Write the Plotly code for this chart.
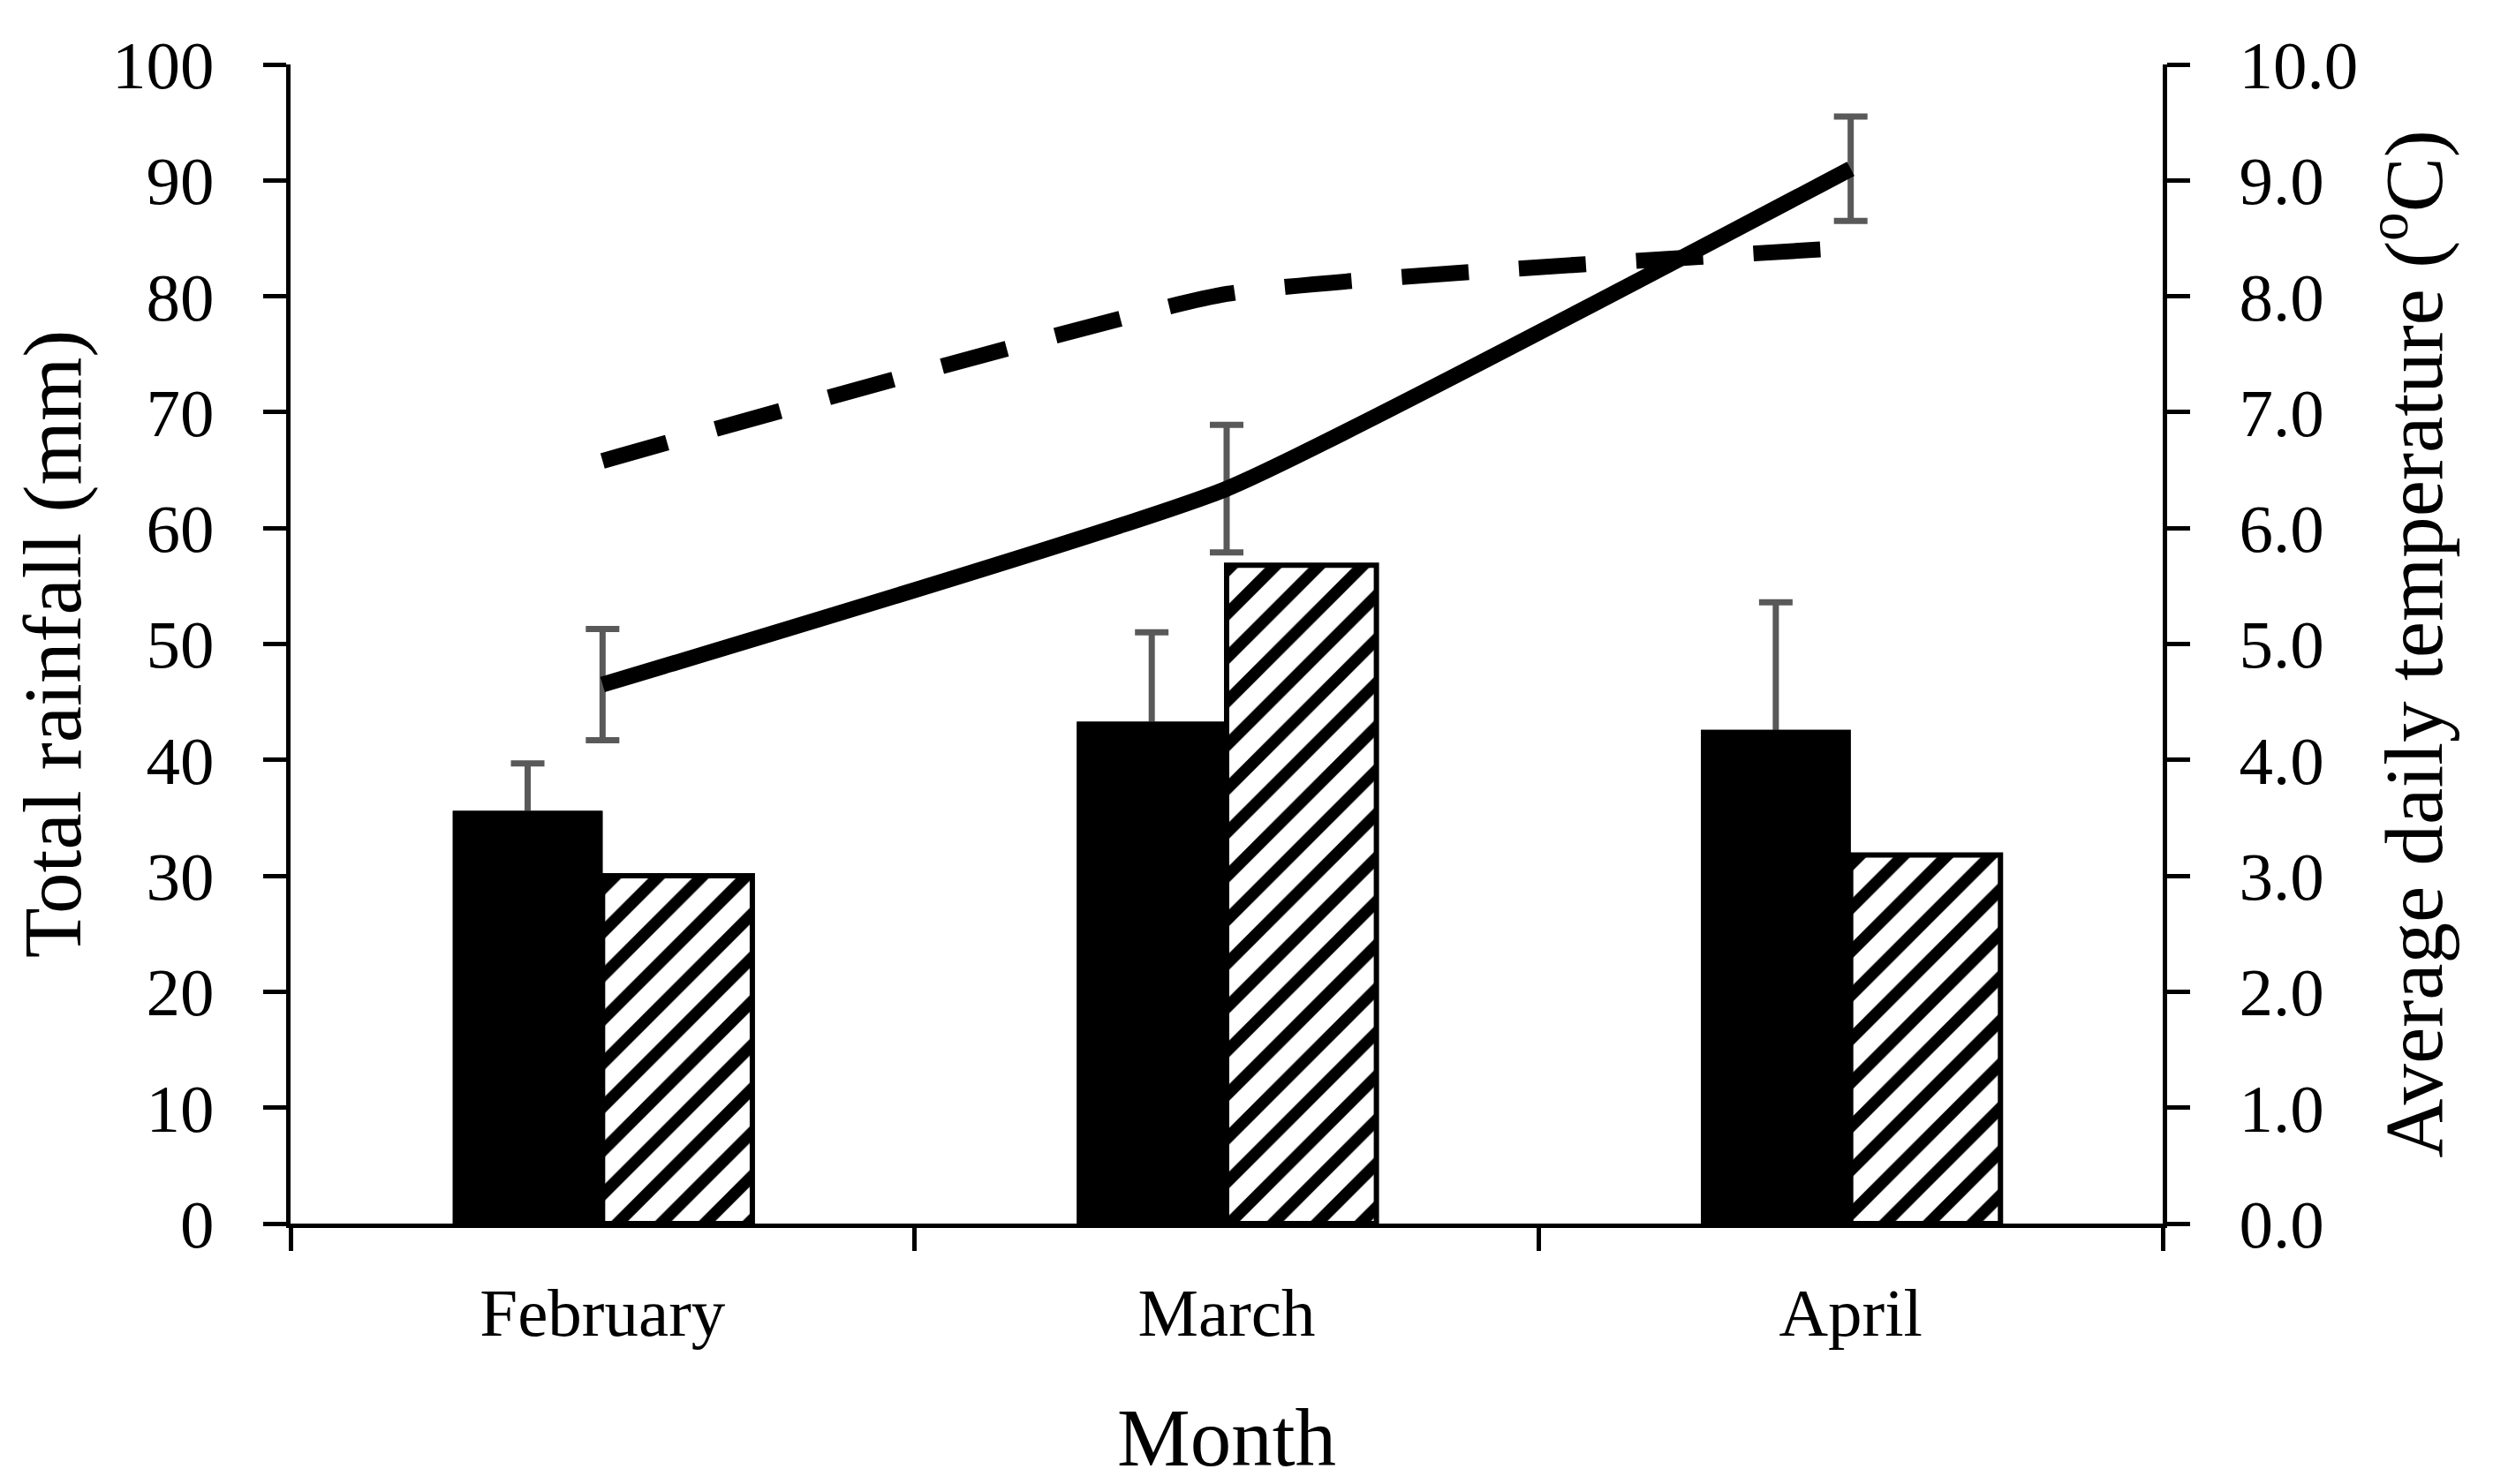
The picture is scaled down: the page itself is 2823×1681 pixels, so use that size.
import plotly.graph_objects as go

months = ["February", "March", "April"]
rain_black = [35.6, 43.3, 42.6]
rain_black_err = [4.1, 7.7, 11.0]
rain_hatched = [30.0, 56.8, 31.8]
temp_solid = [4.65, 6.34, 9.10]
temp_solid_err = [0.48, 0.55, 0.45]
temp_dashed = [6.58, 8.02, 8.42]

FONT = "Liberation Serif, Times New Roman, serif"
ERR_COLOR = "#595959"

fig = go.Figure()

# black bars carrying the (upper) error bars
fig.add_trace(go.Bar(
    x=months, y=rain_black, name="Rainfall (black)", offsetgroup="black",
    marker=dict(color="black", line=dict(color="black", width=0)),
    error_y=dict(type="data", array=rain_black_err, symmetric=False,
                 arrayminus=[0.6, 0.6, 0.6], color=ERR_COLOR, thickness=7, width=19),
    yaxis="y",
))
fig.add_trace(go.Bar(
    x=months, y=rain_hatched, name="Rainfall (hatched)", offsetgroup="hatched",
    marker=dict(color="white", line=dict(color="black", width=6),
                pattern=dict(shape="/", fgcolor="black", bgcolor="white",
                             size=35, solidity=0.38, fillmode="replace")),
    yaxis="y",
))
# same black bars redrawn on top so the error bars only show above the bar tops
fig.add_trace(go.Bar(
    x=months, y=rain_black, name="Rainfall (black) cover", offsetgroup="black",
    marker=dict(color="black", line=dict(color="black", width=0)),
    hoverinfo="skip", yaxis="y",
))
fig.add_trace(go.Scatter(
    x=months, y=temp_solid, name="Temperature (solid)", mode="lines",
    line=dict(color="black", width=18, shape="spline", smoothing=0.4),
    error_y=dict(type="data", array=temp_solid_err, color=ERR_COLOR,
                 thickness=7, width=19),
    yaxis="y2",
))
fig.add_trace(go.Scatter(
    x=months, y=temp_dashed, name="Temperature (dashed)", mode="lines",
    line=dict(color="black", width=18, dash="76px,57px", shape="spline", smoothing=0.4),
    yaxis="y2",
))

axis_common = dict(
    showgrid=False, zeroline=False, showline=True, linecolor="black", linewidth=5,
    ticks="outside", ticklen=26, tickwidth=5, tickcolor="black",
    tickfont=dict(family=FONT, size=77, color="black"),
)
TITLE_SIZE = 93

fig.update_layout(
    width=2823, height=1681,
    paper_bgcolor="white", plot_bgcolor="white",
    margin=dict(l=321, r=382, t=65, b=303, autoexpand=False),
    showlegend=False,
    barmode="group", bargap=0.52, bargroupgap=0,
    font=dict(family=FONT, color="black"),
    xaxis=dict(
        **axis_common, type="category", range=[-0.5, 2.5], tickson="boundaries",
        ticklabelstandoff=30,
        title=dict(text="Month", font=dict(family=FONT, size=TITLE_SIZE, color="black"), standoff=67),
    ),
    yaxis=dict(
        **axis_common, range=[0, 100], dtick=10, tick0=0, ticklabelstandoff=40,
        title=dict(text="Total rainfall (mm)", font=dict(family=FONT, size=TITLE_SIZE, color="black"), standoff=36),
    ),
    yaxis2=dict(
        **axis_common, range=[0, 10], dtick=1, tick0=0, tickformat=".1f",
        overlaying="y", side="right", ticklabelstandoff=40,
        title=dict(text="Average daily temperature (<sup>o</sup>C)",
                   font=dict(family=FONT, size=TITLE_SIZE, color="black"), standoff=32),
    ),
)

fig.write_html("out.html")
